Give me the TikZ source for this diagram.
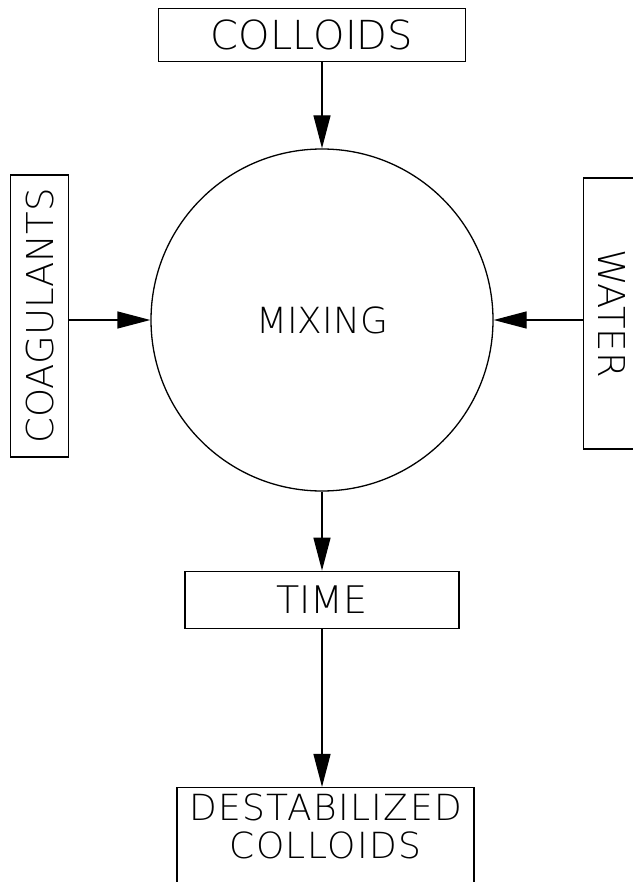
\documentclass[tikz,border=0pt]{standalone}
\usepackage{fontspec}
\setmainfont{DejaVu Sans}[UprightFont={* ExtraLight}]
\usepackage{graphicx}
\usetikzlibrary{arrows.meta,positioning}

\begin{document}
\begin{tikzpicture}[
  x=1pt, y=-1pt,
  box/.style={rectangle, draw=black, line width=1.3pt, inner sep=0pt,
              align=center, font=\fontsize{38}{35}\selectfont},
  sidebox/.style={box, minimum width=58pt, font=\fontsize{37}{37}\selectfont},
  arr/.style={-{Triangle[length=33pt, width=17pt]}, line width=1.3pt}
]
\useasboundingbox (0,0) rectangle (632,882);
\node[circle, draw=black, line width=1.3pt, inner sep=0pt, minimum size=342pt,
      font=\fontsize{36}{36}\selectfont] (mix) at (322,320) {MIXING};
\node[box, above=86pt of mix, xshift=-10pt, minimum width=307pt, minimum height=53pt,
      font=\fontsize{40}{40}\selectfont] (colloids) {COLLOIDS};
\node[sidebox, left=81pt of mix, yshift=4pt, minimum height=282pt] (coag) {\rotatebox{90}{COAGULANTS}};
\node[sidebox, right=89pt of mix, yshift=6.5pt, minimum height=271pt] (water) {\rotatebox{-90}{WATER}};
\node[box, below=79pt of mix, minimum width=274pt, minimum height=57pt] (time) {TIME};
\node[box, below=158pt of time, xshift=3.5pt, minimum width=297pt, inner ysep=6pt,
      text depth=80pt, font=\fontsize{36}{38}\selectfont\addfontfeature{LetterSpace=4}] (dest) {DESTABILIZED\\COLLOIDS};
\draw[arr] (colloids.south -| mix.north) -- (mix.north);
\draw[arr] (coag.east |- mix.west) -- (mix.west);
\draw[arr] (water.west |- mix.east) -- (mix.east);
\draw[arr] (mix.south) -- (time.north);
\draw[arr] (time.south) -- (dest.north -| time.south);
\end{tikzpicture}
\end{document}
